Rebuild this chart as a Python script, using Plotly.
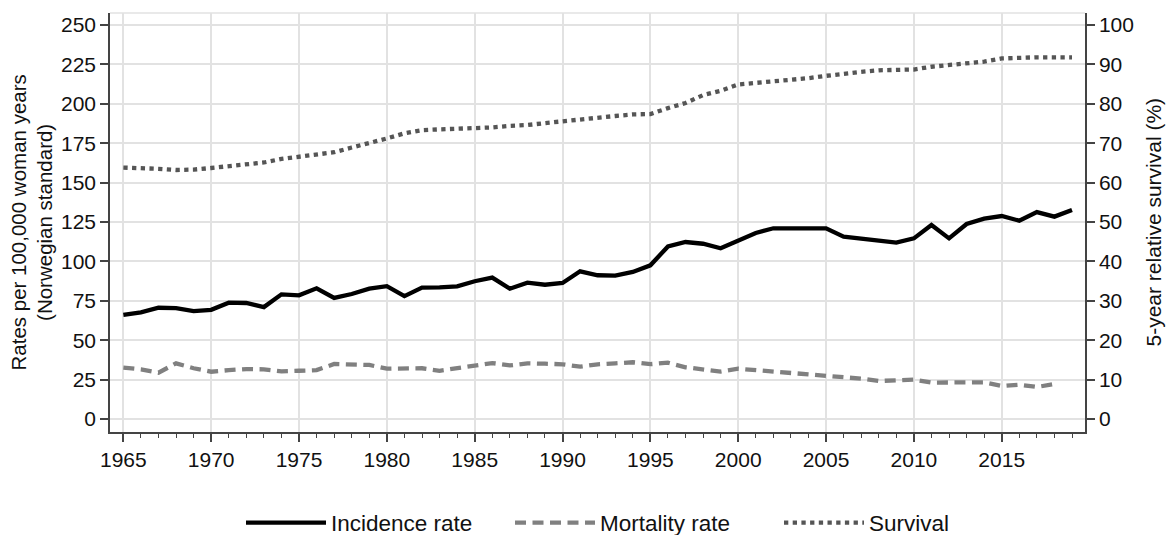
import plotly.graph_objects as go

years = list(range(1965, 2020))
years_mort = list(range(1965, 2019))

incidence = [66.0, 67.7, 70.6, 70.4, 68.5, 69.3, 73.8, 73.6, 71.0, 79.1,
             78.5, 82.9, 76.8, 79.3, 82.7, 84.3, 78.0, 83.4, 83.5, 84.2,
             87.4, 89.7, 82.7, 86.5, 85.2, 86.3, 93.7, 91.2, 91.0, 93.3,
             97.5, 109.5, 112.3, 111.2, 108.3, 113.3, 118.0, 121.0, 121.0, 121.4,
             121.0, 115.7, 114.4, 113.6, 111.9, 114.6, 123.1, 114.6, 123.7, 127.1,
             128.8, 125.8, 131.3, 128.4, 132.6]

mortality = [32.6, 31.5, 29.4, 35.3, 32.2, 30.0, 31.0, 31.7, 31.5, 30.2,
             30.6, 31.0, 34.9, 34.7, 34.3, 31.9, 32.3, 32.2, 30.6, 32.3,
             33.4, 35.5, 34.0, 35.3, 35.1, 34.7, 33.2, 34.7, 35.3, 36.0,
             34.8, 35.7, 32.8, 31.7, 30.1, 31.9, 31.0, 30.2, 29.4, 28.5,
             27.9, 26.6, 25.6, 24.1, 24.7, 25.0, 23.1, 23.1, 23.3, 23.3,
             20.9, 21.8, 20.3, 22.2]

survival = [63.8, 63.7, 63.5, 63.2, 63.3, 63.7, 64.1, 64.5, 65.1, 66.0,
            66.6, 67.0, 67.7, 68.9, 70.0, 71.2, 72.5, 73.3, 73.5, 73.6,
            73.9, 74.0, 74.4, 74.6, 75.1, 75.6, 76.1, 76.6, 76.9, 77.3,
            77.4, 78.9, 80.2, 82.2, 83.3, 84.9, 85.3, 85.7, 86.0, 86.5,
            87.1, 87.7, 88.1, 88.5, 88.6, 88.7, 89.4, 89.8, 90.1, 90.7,
            91.5, 91.7, 91.8, 91.8, 91.8]

x_ticks = list(range(1965, 2020, 5))
left_ticks = list(range(0, 251, 25))
right_ticks = list(range(0, 101, 10))

FONT = "Liberation Sans, Arial, sans-serif"
GRID = "#e2e2e2"
AXIS = "#444444"

fig = go.Figure()
fig.add_trace(go.Scatter(x=years, y=incidence, name="Incidence rate", mode="lines",
                         line=dict(color="#000000", width=4.3)))
fig.add_trace(go.Scatter(x=years_mort, y=mortality, name="Mortality rate", mode="lines",
                         line=dict(color="#808080", width=4.3, dash="11px,6.5px")))
fig.add_trace(go.Scatter(x=years, y=survival, name="Survival", mode="lines", yaxis="y2",
                         line=dict(color="#555555", width=4.3, dash="4.3px,4.4px")))

fig.update_layout(
    width=1166, height=535,
    margin=dict(l=110, r=81, t=13, b=103, autoexpand=False),
    paper_bgcolor="white", plot_bgcolor="white",
    font=dict(family=FONT, size=21, color="#111111"),
    showlegend=True,
    legend=dict(orientation="h", x=(241 - 110) / 975, xanchor="left", y=-0.217, yanchor="middle",
                font=dict(size=22.5, color="#111111"), itemwidth=80,
                entrywidth=174, entrywidthmode="pixels",
                bgcolor="rgba(0,0,0,0)"),
    xaxis=dict(range=[1964.24, 2019.74], tickvals=x_ticks, ticktext=[str(v) for v in x_ticks],
               automargin=False,
               showgrid=True, gridcolor=GRID, gridwidth=1.5,
               showline=True, linecolor=AXIS, linewidth=1.5,
               ticks="outside", ticklen=8, tickwidth=1.5, tickcolor=AXIS,
               minor=dict(dtick=1, tick0=1965, ticks="outside", ticklen=4, tickwidth=1.2,
                          tickcolor=AXIS, showgrid=False),
               zeroline=False),
    yaxis=dict(range=[-8.25, 257.6], tickvals=left_ticks, automargin=False,
               showgrid=True, gridcolor=GRID, gridwidth=1.5,
               showline=True, linecolor=AXIS, linewidth=1.5,
               ticks="outside", ticklen=8, tickwidth=1.5, tickcolor=AXIS,
               zeroline=False),
    yaxis2=dict(range=[-3.3, 103.04], tickvals=right_ticks, overlaying="y", side="right",
                automargin=False,
                showgrid=False, showline=True, linecolor=AXIS, linewidth=1.5,
                ticks="outside", ticklen=8, tickwidth=1.5, tickcolor=AXIS,
                zeroline=False),
    shapes=[dict(type="line", xref="paper", yref="paper", x0=0, x1=1, y0=1, y1=1,
                 line=dict(color=GRID, width=1.5))],
    annotations=[
        dict(text="Rates per 100,000 woman years<br>(Norwegian standard)", textangle=-90,
             xref="paper", yref="paper", x=(31 - 110) / 975, y=0.5,
             xanchor="center", yanchor="middle", showarrow=False,
             font=dict(size=20.5, color="#111111")),
        dict(text="5-year relative survival (%)", textangle=-90,
             xref="paper", yref="paper", x=(1153 - 110) / 975, y=0.5,
             xanchor="center", yanchor="middle", showarrow=False,
             font=dict(size=21, color="#111111")),
    ],
)

fig.write_html(
    "out.html",
    config={"displayModeBar": False},
    post_script="document.body.style.margin='0px';document.body.style.padding='0px';"
                "document.body.style.overflow='hidden';",
)
